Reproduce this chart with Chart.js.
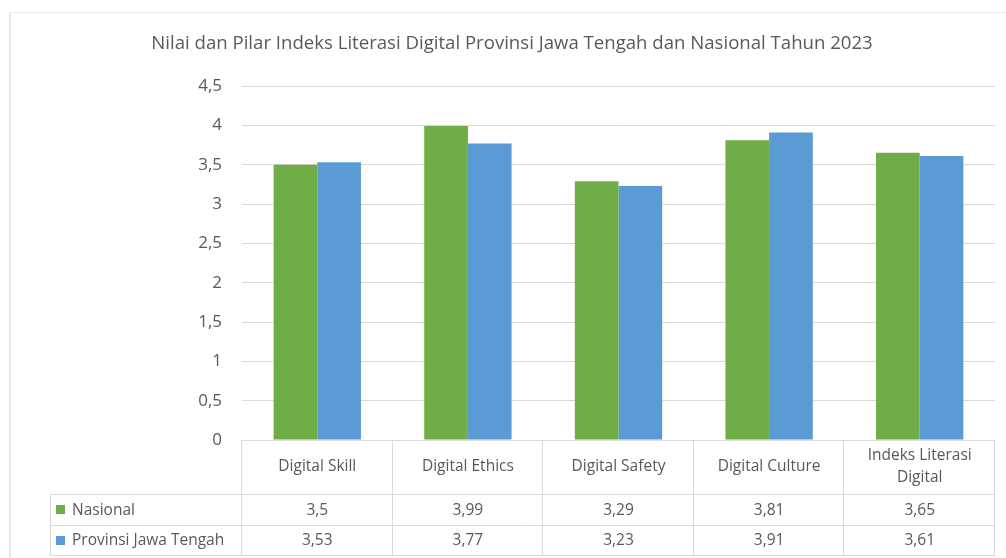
<!DOCTYPE html>
<html>
<head>
<meta charset="utf-8">
<script src="https://cdn.jsdelivr.net/npm/chart.js@4"></script>
<style>
  html, body { margin: 0; padding: 0; background: #fff; }
  #wrap { position: relative; width: 1006px; height: 558px; overflow: hidden; }
  #frame { position: absolute; left: 9px; top: 12px; width: 1100px; height: 600px;
           border-left: 2px solid #e6e6e6; border-top: 1px solid #ececec; }
  canvas { position: absolute; left: 0; top: 0; }
</style>
</head>
<body>
<div id="wrap">
  <div id="frame"></div>
  <canvas id="myChart" width="1006" height="558"></canvas>
</div>
<script>
const chartTitle = 'Nilai dan Pilar Indeks Literasi Digital Provinsi Jawa Tengah dan Nasional Tahun 2023';
const categories = ['Digital Skill', 'Digital Ethics', 'Digital Safety', 'Digital Culture', ['Indeks Literasi', 'Digital']];
const seriesNames = ['Nasional', 'Provinsi Jawa Tengah'];
const nasional = [3.5, 3.99, 3.29, 3.81, 3.65];
const jawaTengah = [3.53, 3.77, 3.23, 3.91, 3.61];
const yTicks = [0, 0.5, 1, 1.5, 2, 2.5, 3, 3.5, 4, 4.5];

const green = '#70AD47';
const blue = '#5B9BD5';
const textColor = '#595959';
const lineColor = '#d9d9d9';

function fmt(v) {
  return String(v).replace('.', ',');
}

// title + data table under the plot, drawn from the x scale
const tablePlugin = {
  id: 'dataTable',
  afterDraw(chart) {
    const ctx = chart.ctx;
    const x = chart.scales.x;
    const area = chart.chartArea;
    const colW = (area.right - area.left) / categories.length;
    const headTop = area.bottom;
    const row1 = 494, row2 = 525, row3 = 555;
    const leftEdge = 50;

    ctx.save();
    ctx.fillStyle = textColor;
    ctx.textAlign = 'center';
    ctx.textBaseline = 'middle';
    ctx.font = '18.6px "Open Sans"';
    ctx.fillText(chartTitle, 512, 44);

    ctx.strokeStyle = lineColor;
    ctx.lineWidth = 1;
    ctx.beginPath();
    // horizontal lines
    ctx.moveTo(area.left, headTop + 0.5); ctx.lineTo(area.right, headTop + 0.5);
    ctx.moveTo(leftEdge, row1 + 0.5); ctx.lineTo(area.right, row1 + 0.5);
    ctx.moveTo(leftEdge, row2 + 0.5); ctx.lineTo(area.right, row2 + 0.5);
    ctx.moveTo(leftEdge, row3 + 0.5); ctx.lineTo(area.right, row3 + 0.5);
    // vertical lines
    for (let i = 0; i <= categories.length; i++) {
      const px = Math.round(area.left + i * colW) - 0.5;
      ctx.moveTo(px, headTop); ctx.lineTo(px, row3);
    }
    ctx.moveTo(leftEdge + 0.5, row1); ctx.lineTo(leftEdge + 0.5, row3);
    ctx.stroke();

    ctx.font = '15.5px "Open Sans"';
    categories.forEach(function (c, i) {
      const cx = x.getPixelForValue(i);
      if (Array.isArray(c)) {
        ctx.fillText(c[0], cx, 456);
        ctx.fillText(c[1], cx, 478);
      } else {
        ctx.fillText(c, cx, 467);
      }
      ctx.fillText(fmt(nasional[i]), cx, (row1 + row2) / 2 + 1);
      ctx.fillText(fmt(jawaTengah[i]), cx, (row2 + row3) / 2 + 1);
    });

    ctx.textAlign = 'left';
    ctx.fillStyle = green;
    ctx.fillRect(56, 505, 9, 9);
    ctx.fillStyle = blue;
    ctx.fillRect(56, 536, 9, 9);
    ctx.fillStyle = textColor;
    ctx.fillText(seriesNames[0], 72, (row1 + row2) / 2 + 1);
    ctx.fillText(seriesNames[1], 72, (row2 + row3) / 2 + 1);
    ctx.restore();
  }
};

const ctx = document.getElementById('myChart');
const myChart = new Chart(ctx, {
  type: 'bar',
  data: {
    labels: categories,
    datasets: [
      { label: seriesNames[0], data: nasional, backgroundColor: green },
      { label: seriesNames[1], data: jawaTengah, backgroundColor: blue }
    ]
  },
  options: {
    responsive: false,
    animation: false,
    layout: { padding: { left: 0, top: 86, right: 11, bottom: 118 } },
    datasets: { bar: { categoryPercentage: 0.58, barPercentage: 1 } },
    scales: {
      x: { display: false },
      y: {
        min: 0,
        max: 4.5,
        afterFit: function (scale) { scale.width = 242; },
        afterBuildTicks: function (scale) {
          scale.ticks = yTicks.map(function (v) { return { value: v }; });
        },
        ticks: {
          color: textColor,
          font: { family: 'Open Sans', size: 17 },
          padding: 20,
          callback: function (v) { return fmt(v); }
        },
        grid: { color: lineColor, drawTicks: false },
        border: { display: false }
      }
    },
    plugins: {
      legend: { display: false },
      title: { display: false },
      tooltip: { enabled: false }
    }
  },
  plugins: [tablePlugin]
});
</script>
</body>
</html>
